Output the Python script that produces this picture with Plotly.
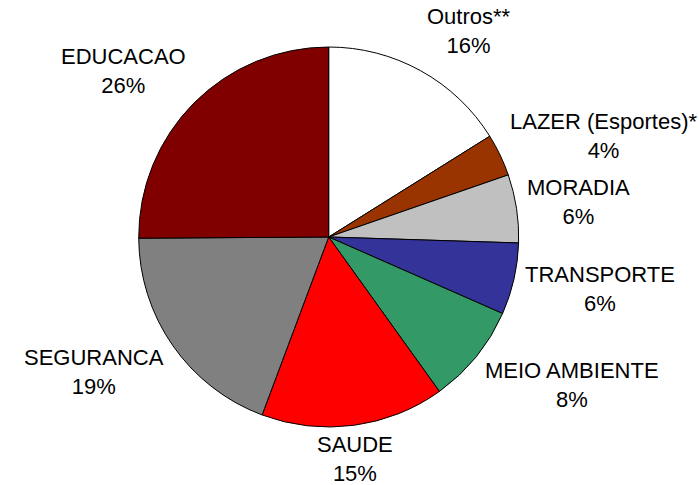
import math
import plotly.graph_objects as go

categories = ["Outros**", "LAZER (Esportes)*", "MORADIA", "TRANSPORTE",
              "MEIO AMBIENTE", "SAUDE", "SEGURANCA", "EDUCACAO"]
values = [16.1, 3.6, 5.8, 6.1, 8.5, 15.6, 19.2, 25.1]
pct_labels = ["16%", "4%", "6%", "6%", "8%", "15%", "19%", "26%"]
colors = ["#FFFFFF", "#993300", "#C0C0C0", "#333399",
          "#339966", "#FF0000", "#808080", "#800000"]

W, H = 699, 485
CX, CY = 328.7, 237        # pie centre (px)
R = 190                    # pie radius (px)
LAB_A, LAB_B = 199, 235    # label ellipse half-axes (px)
EDGE = 26                  # keep label blocks inside the page

fig = go.Figure(go.Pie(
    labels=categories, values=values,
    textinfo="none", sort=False, direction="clockwise", rotation=0,
    marker=dict(colors=colors, line=dict(color="#000000", width=1)),
    domain=dict(x=[(CX - R) / W, (CX + R) / W],
                y=[1 - (CY + R) / H, 1 - (CY - R) / H]),
    hoverinfo="label+percent", automargin=False,
))

# outside labels placed around the pie at each slice's mid angle
total = sum(values)
cum = 0.0
annotations = []
for cat, val, pct in zip(categories, values, pct_labels):
    mid = (cum + val / 2) / total * 2 * math.pi   # clockwise from 12 o'clock
    cum += val
    s, c = math.sin(mid), math.cos(mid)
    px = CX + LAB_A * s
    py = min(max(CY - LAB_B * c, EDGE + 2), H - EDGE)
    if s > 0.2:
        xa = "left"
    elif s < -0.2:
        xa = "right"
    else:
        xa = "center"
    annotations.append(dict(
        x=px / W, y=1 - py / H, xref="paper", yref="paper",
        text=f"{cat}<br>{pct}", showarrow=False,
        xanchor=xa, yanchor="middle", align="center",
        font=dict(family="Liberation Sans, Arial, sans-serif", size=22, color="#000000"),
    ))

fig.update_layout(
    width=W, height=H,
    margin=dict(l=0, r=0, t=0, b=0),
    showlegend=False,
    paper_bgcolor="#FFFFFF",
    plot_bgcolor="#FFFFFF",
    annotations=annotations,
)

# remove the default page margin so the figure fills the window exactly
fig.write_html("out.html", config={"displayModeBar": False},
               post_script="document.body.style.margin='0px';")
